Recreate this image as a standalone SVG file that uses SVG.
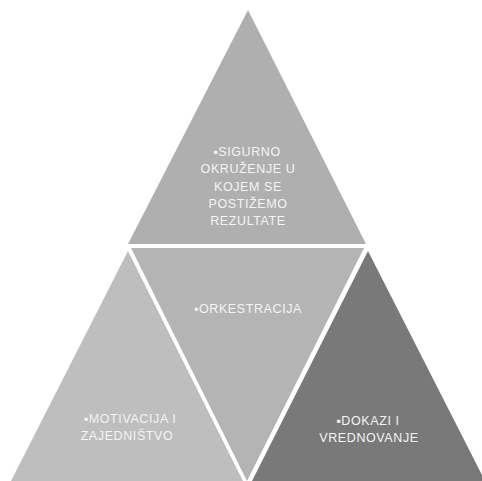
<svg xmlns="http://www.w3.org/2000/svg" width="482" height="481" viewBox="0 0 482 481">
<style>
.t{font-family:"Liberation Sans","DejaVu Sans",sans-serif;font-size:12.5px;letter-spacing:0.6px;fill:#f4f4f4;text-anchor:middle}
</style>
<rect width="482" height="481" fill="#ffffff"/>
<g id="top">
<polygon points="248,10 128,244 366,244" fill="#afafaf"/>
<text class="t"><tspan x="247" y="156">▪SIGURNO</tspan><tspan x="248" y="173">OKRUŽENJE U</tspan><tspan x="248" y="191">KOJEM SE</tspan><tspan x="248" y="208">POSTIŽEMO</tspan><tspan x="248" y="225">REZULTATE</tspan></text>
</g>
<g id="middle">
<polygon points="131,248 364,248 247,481" fill="#b4b4b4"/>
<text class="t" x="248" y="313">▪ORKESTRACIJA</text>
</g>
<g id="left">
<polygon points="128,251 243,481 11,481" fill="#bebebe"/>
<text class="t"><tspan x="130" y="423">▪MOTIVACIJA I</tspan><tspan x="127" y="440">ZAJEDNIŠTVO</tspan></text>
</g>
<g id="right">
<polygon points="368,251 485,481 252,481" fill="#797979"/>
<text class="t"><tspan x="368" y="425">▪DOKAZI I</tspan><tspan x="369" y="442">VREDNOVANJE</tspan></text>
</g>
<g id="connectors"></g>
</svg>
